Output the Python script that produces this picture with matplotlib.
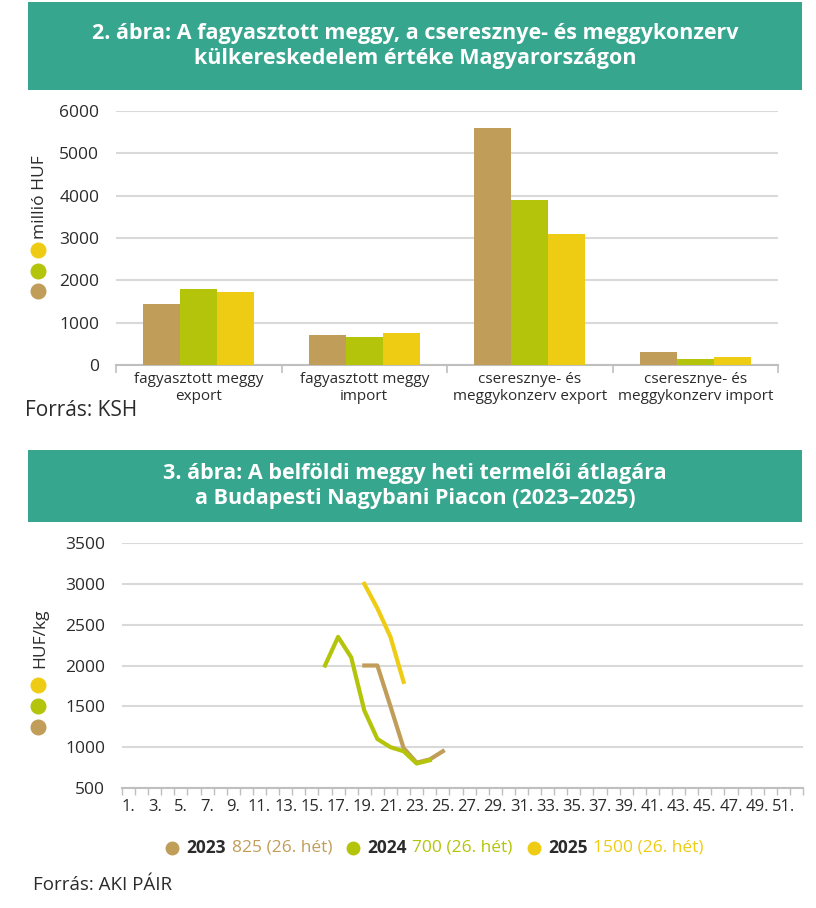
import matplotlib
matplotlib.use("Agg")
import matplotlib.pyplot as plt
import numpy as np
from matplotlib.patches import Rectangle
from matplotlib.lines import Line2D

plt.rcParams['font.family'] = ['Open Sans', 'DejaVu Sans']

# --- adatok ---
years = ['2023', '2024', '2025']
colors = ['#c19d5a', '#b4c40a', '#efcc14']

categories = ['fagyasztott meggy\nexport', 'fagyasztott meggy\nimport',
              'cseresznye- és\nmeggykonzerv export', 'cseresznye- és\nmeggykonzerv import']
v2023 = [1430, 700, 5600, 300]
v2024 = [1790, 650, 3900, 150]
v2025 = [1720, 760, 3090, 200]

weeks_2023 = [19, 20, 21, 22, 23, 24, 25]
price_2023 = [2000, 2000, 1500, 990, 810, 850, 950]
weeks_2024 = [16, 17, 18, 19, 20, 21, 22, 23, 24]
price_2024 = [2000, 2350, 2100, 1450, 1100, 1000, 950, 800, 840]
weeks_2025 = [19, 20, 21, 22]
price_2025 = [3000, 2700, 2350, 1800]

week_labels = [f"{w}." for w in range(1, 53)]
last_week = ['825 (26. hét)', '700 (26. hét)', '1500 (26. hét)']

W, H = 816, 908
fig = plt.figure(figsize=(W / 100, H / 100), dpi=100)
teal = '#37a68f'
grid_c = '#d9d9d9'
txt_c = '#2b2b2b'


def px(x, y):
    return x / W, 1 - y / H


# title banners
for (y0, y1, title) in [(2, 90, "2. ábra: A fagyasztott meggy, a cseresznye- és meggykonzerv\nkülkereskedelem értéke Magyarországon"),
                        (450, 522, "3. ábra: A belföldi meggy heti termelői átlagára\na Budapesti Nagybani Piacon (2023–2025)")]:
    fig.add_artist(Rectangle(px(28, y1), 774 / W, (y1 - y0) / H, transform=fig.transFigure,
                             facecolor=teal, edgecolor='none'))
    fig.text(*px(415, (y0 + y1) / 2), title, color='white', fontsize=15.5, fontweight='bold',
             ha='center', va='center', linespacing=1.2)

# --- 2. ábra: oszlopdiagram ---
ax1 = fig.add_axes([116 / W, 1 - 365 / H, 662 / W, 254 / H])
x = np.arange(len(categories))
bw = 0.224
for i, (vals, c) in enumerate(zip([v2023, v2024, v2025], colors)):
    ax1.bar(x + (i - 1) * bw, vals, width=bw, color=c, zorder=3)
ax1.set_xlim(-0.5, len(categories) - 0.5)
ax1.set_ylim(0, 6000)
ax1.set_yticks(range(0, 6001, 1000))
ax1.yaxis.grid(True, color=grid_c, linewidth=1.5, zorder=0)
ax1.set_xticks(x)
ax1.set_xticklabels(categories, fontsize=11, color=txt_c, linespacing=1.15)
ax1.set_xticks(np.arange(-0.5, len(categories)), minor=True)
ax1.tick_params(axis='x', which='major', length=0, pad=5)
ax1.tick_params(axis='x', which='minor', length=6, color='#bfbfbf', width=1.2)
ax1.tick_params(axis='y', length=0, labelsize=12.5, labelcolor=txt_c, pad=12)
for s in ['top', 'right', 'left']:
    ax1.spines[s].set_visible(False)
ax1.spines['bottom'].set_color('#bfbfbf')
ax1.spines['bottom'].set_linewidth(1.5)

fig.text(*px(25, 411), "Forrás: KSH", fontsize=15, color=txt_c, ha='left', va='center')

# --- 3. ábra: vonaldiagram ---
ax2 = fig.add_axes([122 / W, 1 - 788 / H, 681 / W, 245 / H])
for wk, pr, c in zip([weeks_2023, weeks_2024, weeks_2025], [price_2023, price_2024, price_2025], colors):
    ax2.plot(wk, pr, color=c, linewidth=3, solid_joinstyle='round', zorder=3)
ax2.set_xlim(0.5, 52.5)
ax2.set_ylim(500, 3500)
ax2.set_yticks(range(500, 3501, 500))
ax2.yaxis.grid(True, color=grid_c, linewidth=1.5, zorder=0)
ax2.set_xticks(range(1, 53, 2))
ax2.set_xticklabels(week_labels[::2], fontsize=12, color=txt_c)
ax2.set_xticks(np.arange(0.5, 53), minor=True)
ax2.tick_params(axis='x', which='major', length=0, pad=8)
ax2.tick_params(axis='x', which='minor', length=5, color='#bfbfbf', width=1)
ax2.tick_params(axis='y', length=0, labelsize=12.5, labelcolor=txt_c, pad=12)
for s in ['top', 'right', 'left']:
    ax2.spines[s].set_visible(False)
ax2.spines['bottom'].set_color('#bfbfbf')
ax2.spines['bottom'].set_linewidth(1.5)

# bal oldali függőleges jelmagyarázatok
for (ys, label, ly) in [([291, 271, 250], "millió HUF", 197), ([727, 706, 685], "HUF/kg", 638)]:
    for yy, c in zip(ys, colors):
        fig.add_artist(Line2D([38 / W], [1 - yy / H], marker='o', markersize=10.5, color=c,
                              linestyle='none', transform=fig.transFigure))
    fig.text(*px(40, ly), label, rotation=90, fontsize=12.5, color=txt_c, ha='center', va='center')

# alsó jelmagyarázat
fig.canvas.draw()
renderer = fig.canvas.get_renderer()
cx = 172
ly = 848
for yr, note, c in zip(years, last_week, colors):
    fig.add_artist(Line2D([cx / W], [1 - ly / H], marker='o', markersize=9, color=c,
                          linestyle='none', transform=fig.transFigure))
    t = fig.text(*px(cx + 14, ly), yr, fontsize=12.5, fontweight='bold', color=txt_c, ha='left', va='center')
    bb = t.get_window_extent(renderer)
    t2 = fig.text((bb.x1 + 6) / W, 1 - ly / H, note, fontsize=12.5, color=c, ha='left', va='center')
    bb2 = t2.get_window_extent(renderer)
    cx = bb2.x1 + 21

fig.text(*px(33, 885), "Forrás: AKI PÁIR", fontsize=13.5, color=txt_c, ha='left', va='center')

fig.savefig("out.png", dpi=100)
